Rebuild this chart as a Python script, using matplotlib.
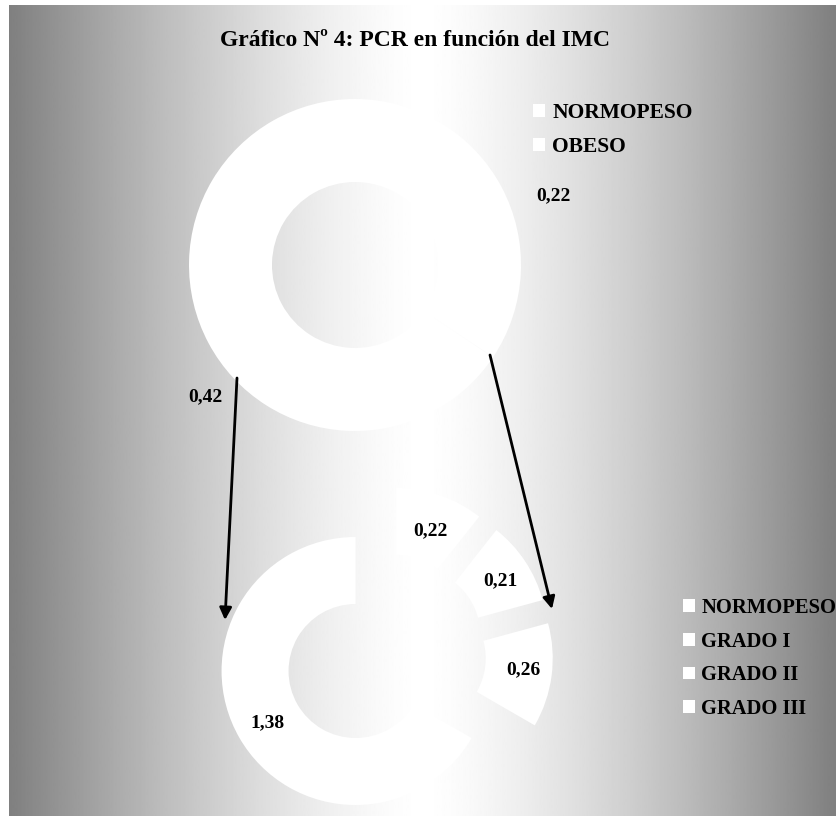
import matplotlib
matplotlib.use("Agg")
from matplotlib import pyplot
import numpy

W, H = 836, 816

title = "Gráfico Nº 4: PCR en función del IMC"
top_labels = ["NORMOPESO", "OBESO"]
top_values = [0.22, 0.42]
bottom_labels = ["NORMOPESO", "GRADO I", "GRADO II", "GRADO III"]
bottom_values = [0.22, 0.21, 0.26, 1.38]


def px(x, y):
    # pixel position (y from top) -> axes data coords
    return x, H - y


def fmt(v):
    return f"{v:.2f}".replace(".", ",")


font = dict(family="Liberation Serif", weight="bold", color="black")

fig = pyplot.figure(figsize=(W / 100, H / 100), dpi=100)
ax = fig.add_axes([0, 0, 1, 1])

# gray -> white -> gray background
xs = numpy.linspace(-1, 1, 600)
grad = 1.0 - 0.5 * numpy.abs(xs) ** 1.4
ax.imshow(grad[numpy.newaxis, :], extent=(9, W, 0, H - 5), aspect="auto",
          cmap="gray", vmin=0, vmax=1, zorder=0, interpolation="bilinear")

# top donut
top_wedges, _ = ax.pie(top_values, colors=["white"] * len(top_values),
                       startangle=90, counterclock=False, radius=166,
                       center=px(355, 265),
                       wedgeprops=dict(width=83, edgecolor="none"))
for pos, v in zip([(553, 196), (205, 397)], top_values):
    ax.text(*px(*pos), fmt(v), ha="center", va="center", fontsize=14, **font)

# bottom donut, exploded
bot_wedges, _ = ax.pie(bottom_values, colors=["white"] * len(bottom_values),
                       startangle=90, counterclock=False, radius=134,
                       center=px(385, 654), explode=[34] * len(bottom_values),
                       wedgeprops=dict(width=67, edgecolor="none"))
for pos, v in zip([(430, 531), (500, 581), (523, 670), (267, 723)], bottom_values):
    ax.text(*px(*pos), fmt(v), ha="center", va="center", fontsize=14, **font)

ax.set_xlim(0, W)
ax.set_ylim(0, H)
ax.axis("off")

# arrows linking both charts
for start, end in [((237, 378), (225, 620)), ((490, 355), (552, 609))]:
    ax.annotate("", xy=px(*end), xytext=px(*start),
                arrowprops=dict(arrowstyle="-|>", color="black", lw=2,
                                mutation_scale=18, shrinkA=0, shrinkB=0))

ax.text(*px(415, 41), title, ha="center", va="center", fontsize=17, **font)

leg_kw = dict(loc="upper left", frameon=False, borderpad=0, borderaxespad=0,
              handlelength=0.56, handleheight=0.56, handletextpad=0.33,
              labelspacing=0.66)
leg1 = ax.legend(top_wedges, top_labels,
                 bbox_to_anchor=px(533, 103), bbox_transform=ax.transData,
                 prop=dict(family="Liberation Serif", weight="bold", size=15.5),
                 **leg_kw)
ax.add_artist(leg1)
ax.legend(bot_wedges, bottom_labels,
          bbox_to_anchor=px(683, 598), bbox_transform=ax.transData,
          prop=dict(family="Liberation Serif", weight="bold", size=14.8),
          **leg_kw)

pyplot.savefig("out.png", dpi=100)
